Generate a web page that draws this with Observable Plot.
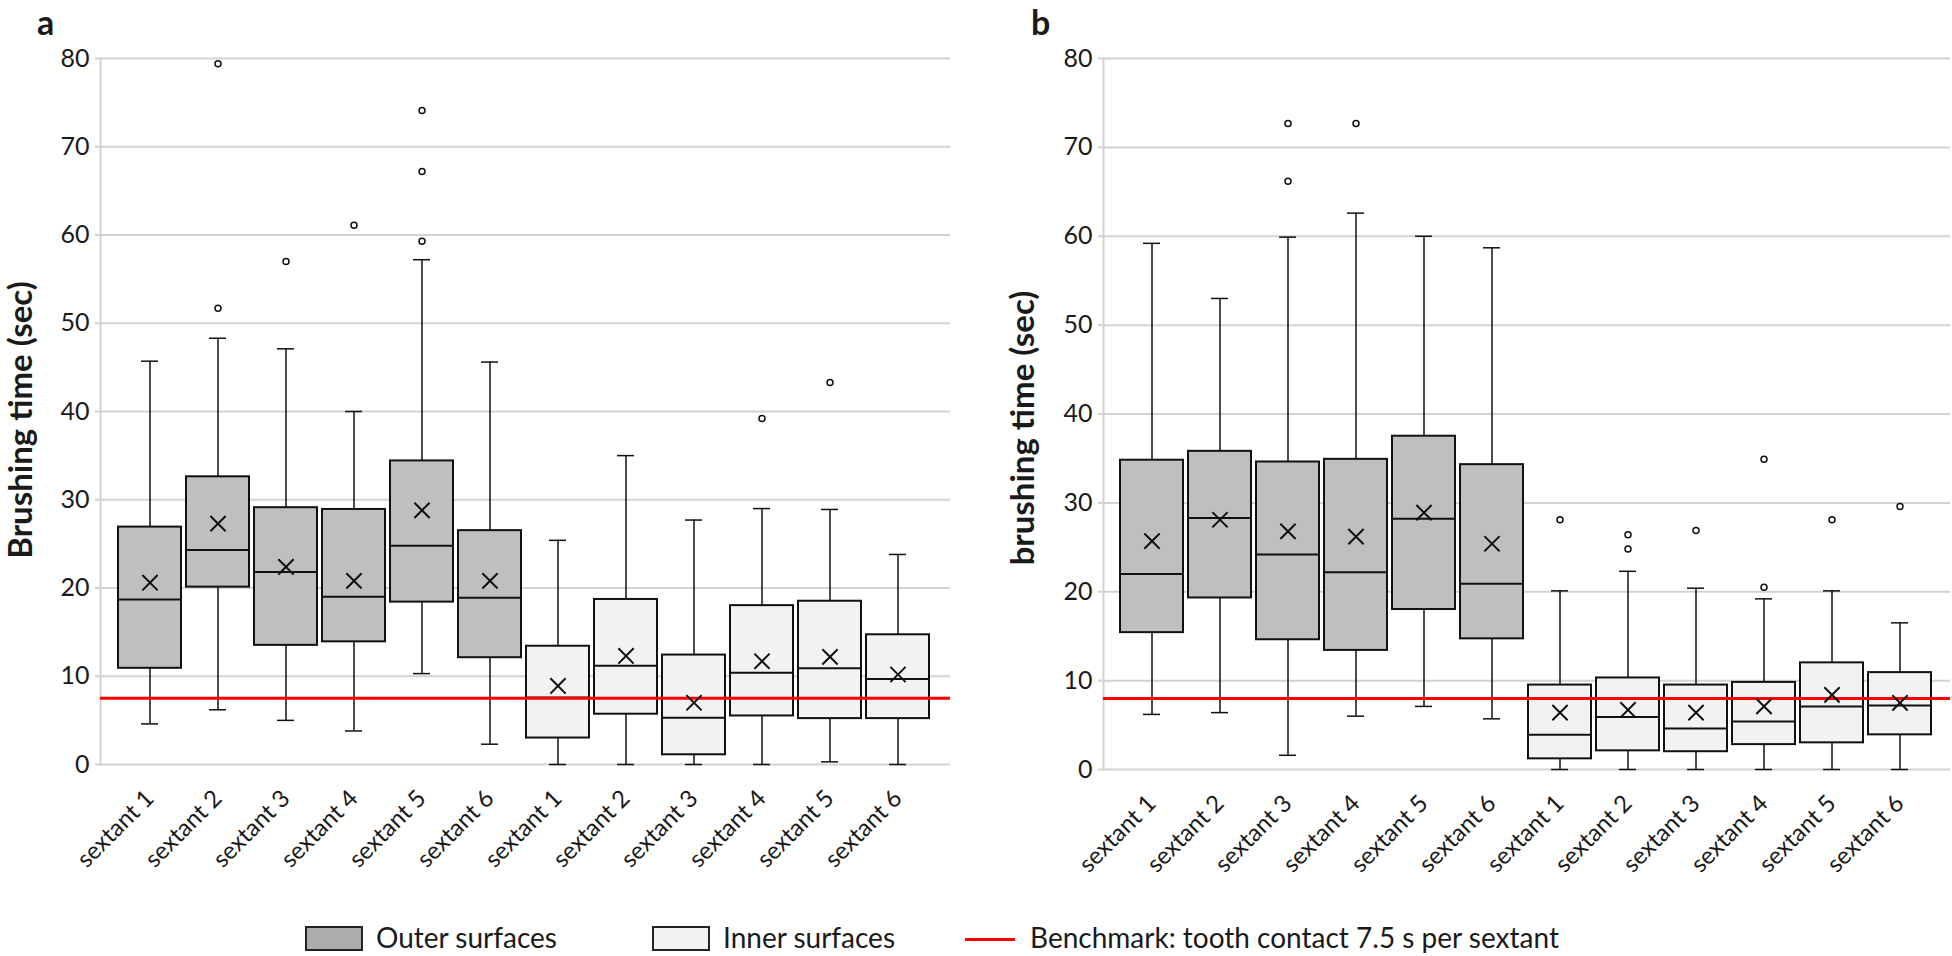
<!DOCTYPE html>
<html>
<head>
<meta charset="utf-8">
<script src="https://cdn.jsdelivr.net/npm/d3@7"></script>
<script src="https://cdn.jsdelivr.net/npm/@observablehq/plot@0.6"></script>
<style>
  html, body { margin: 0; padding: 0; background: #fff; }
  #root { position: relative; width: 1952px; height: 956px; overflow: hidden; font-family: Lato, "Open Sans", sans-serif; color: #1a1a1a; }
  .panel { position: absolute; top: 0; }
  .ytitle { position: absolute; font-weight: bold; font-size: 33px; line-height: 1; white-space: nowrap; transform: translate(-50%, -50%) rotate(-90deg); }
  .letter { position: absolute; font-weight: bold; font-size: 34px; line-height: 1.15; }
  .lg { position: absolute; font-size: 28px; line-height: 1; white-space: nowrap; }
  .sw { position: absolute; box-sizing: border-box; border: 2px solid #222; }
  .redline { position: absolute; height: 3px; background: #ff0000; }
</style>
</head>
<body>
<div id="root"></div>
<script>
// ---- data ----
const sextants = ["sextant 1", "sextant 2", "sextant 3", "sextant 4", "sextant 5", "sextant 6"];
const surfaces = ["Outer surfaces", "Inner surfaces"];
const yTicks = [0, 10, 20, 30, 40, 50, 60, 70, 80];
const benchmarkLabel = "Benchmark: tooth contact 7.5 s per sextant";

// Panel a (6 outer, then 6 inner)
const aLow    = [4.6, 6.2, 5.0, 3.8, 10.3, 2.3, 0, 0, 0, 0, 0.3, 0];
const aQ1     = [10.9, 20.1, 13.5, 13.9, 18.4, 12.1, 3.0, 5.7, 1.1, 5.5, 5.2, 5.2];
const aMedian = [18.7, 24.3, 21.8, 19.0, 24.8, 18.9, 7.6, 11.2, 5.3, 10.4, 10.9, 9.7];
const aQ3     = [26.9, 32.6, 29.1, 28.9, 34.4, 26.5, 13.4, 18.7, 12.4, 18.0, 18.5, 14.7];
const aHigh   = [45.7, 48.3, 47.1, 40.0, 57.2, 45.6, 25.4, 35.0, 27.7, 29.0, 28.9, 23.8];
const aMean   = [20.6, 27.3, 22.4, 20.8, 28.8, 20.8, 8.9, 12.3, 7.0, 11.7, 12.2, 10.2];
const aOutlierIndex = [1, 1, 2, 3, 4, 4, 4, 9, 10];
const aOutlierValue = [51.7, 79.4, 57.0, 61.1, 59.3, 67.2, 74.1, 39.2, 43.3];
const aBenchmark = 7.5;

// Panel b
const bLow    = [6.2, 6.4, 1.6, 6.0, 7.1, 5.7, 0, 0, 0, 0, 0, 0];
const bQ1     = [15.4, 19.3, 14.6, 13.4, 18.0, 14.7, 1.2, 2.1, 2.0, 2.8, 3.0, 3.9];
const bMedian = [22.0, 28.3, 24.2, 22.2, 28.2, 20.9, 3.9, 5.9, 4.6, 5.4, 7.1, 7.2];
const bQ3     = [34.8, 35.8, 34.6, 34.9, 37.5, 34.3, 9.5, 10.3, 9.5, 9.8, 12.0, 10.9];
const bHigh   = [59.2, 53.0, 59.9, 62.6, 60.0, 58.7, 20.1, 22.3, 20.4, 19.2, 20.1, 16.5];
const bMean   = [25.7, 28.1, 26.8, 26.2, 28.9, 25.4, 6.4, 6.7, 6.4, 7.1, 8.4, 7.5];
const bOutlierIndex = [2, 2, 3, 6, 7, 7, 8, 9, 9, 10, 11];
const bOutlierValue = [66.2, 72.7, 72.7, 28.1, 24.8, 26.4, 26.9, 20.5, 34.9, 28.1, 29.6];
const bBenchmark = 8.0;

// ---- build ----
const keys = surfaces.flatMap(s => sextants.map(x => s + "|" + x));

function rowsFrom(low, q1, median, q3, high, mean) {
  return keys.map((k, i) => ({
    key: k, surface: k.split("|")[0],
    low: low[i], q1: q1[i], median: median[i], q3: q3[i], high: high[i], mean: mean[i]
  }));
}
function outliersFrom(idx, val) {
  return idx.map((i, j) => ({key: keys[i], value: val[j]}));
}

function panel(opts) {
  const rows = rowsFrom(opts.low, opts.q1, opts.median, opts.q3, opts.high, opts.mean);
  const outs = outliersFrom(opts.oi, opts.ov);
  const ink = "#111";
  return Plot.plot({
    width: opts.width,
    height: 900,
    marginTop: 58,
    marginLeft: opts.marginLeft,
    marginRight: opts.marginRight,
    marginBottom: opts.marginBottom,
    style: {fontFamily: "Lato, 'Open Sans', sans-serif", color: "#1a1a1a", background: "transparent", overflow: "visible"},
    x: {domain: keys, paddingInner: 0.08, paddingOuter: 0.04, insetLeft: opts.insetLeft, insetRight: opts.insetRight},
    y: {domain: [0, 80]},
    color: {domain: surfaces, range: ["#bfbfbf", "#f2f2f2"]},
    marks: [
      Plot.gridY(yTicks, {stroke: "#d2d2d2", strokeOpacity: 1, strokeWidth: 2}),
      Plot.axisY(yTicks, {tickSize: 5, tickPadding: 6, stroke: "#d2d2d2", strokeWidth: 2, fill: "#1a1a1a", fontSize: 25, label: null}),
      Plot.frame({anchor: "left", stroke: "#d2d2d2", strokeWidth: 2}),
      Plot.axisX({tickRotate: -45, tickSize: 0, tickPadding: 30, fontSize: 24, fill: "#1a1a1a", label: null,
                  tickFormat: d => d.split("|")[1]}),
      Plot.ruleX(rows, {x: "key", y1: "low", y2: "high", stroke: ink, strokeWidth: 1.5}),
      Plot.tickY(rows, {x: "key", y: "low", stroke: ink, strokeWidth: 1.5, insetLeft: 23, insetRight: 23}),
      Plot.tickY(rows, {x: "key", y: "high", stroke: ink, strokeWidth: 1.5, insetLeft: 23, insetRight: 23}),
      Plot.barY(rows, {x: "key", y1: "q1", y2: "q3", fill: "surface", stroke: ink, strokeWidth: 2}),
      Plot.tickY(rows, {x: "key", y: "median", stroke: ink, strokeWidth: 2}),
      Plot.ruleY([opts.benchmark], {stroke: "#ff0000", strokeWidth: 3}),
      Plot.dot(rows, {x: "key", y: "mean", symbol: "times", r: 7, stroke: ink, strokeWidth: 2}),
      Plot.dot(outs, {x: "key", y: "value", r: 3, stroke: ink, fill: "white", strokeWidth: 1.5})
    ]
  });
}

const root = document.getElementById("root");

const pa = panel({low: aLow, q1: aQ1, median: aMedian, q3: aQ3, high: aHigh, mean: aMean,
  oi: aOutlierIndex, ov: aOutlierValue, benchmark: aBenchmark,
  width: 970, marginLeft: 100, marginRight: 20, marginBottom: 136, insetLeft: 14, insetRight: 17});
const wa = document.createElement("div"); wa.className = "panel"; wa.style.left = "0px"; wa.appendChild(pa); root.appendChild(wa);

const pb = panel({low: bLow, q1: bQ1, median: bMedian, q3: bQ3, high: bHigh, mean: bMean,
  oi: bOutlierIndex, ov: bOutlierValue, benchmark: bBenchmark,
  width: 972, marginLeft: 123, marginRight: 2, marginBottom: 131, insetLeft: 12, insetRight: 15});
const wb = document.createElement("div"); wb.className = "panel"; wb.style.left = "980px"; wb.appendChild(pb); root.appendChild(wb);

function addDiv(cls, text, css) {
  const d = document.createElement("div");
  d.className = cls;
  if (text) d.textContent = text;
  Object.assign(d.style, css);
  root.appendChild(d);
  return d;
}
addDiv("letter", "a", {left: "37px", top: "2px"});
addDiv("letter", "b", {left: "1031px", top: "2px"});
addDiv("ytitle", "Brushing time (sec)", {left: "19px", top: "420px"});
addDiv("ytitle", "brushing time (sec)", {left: "1021px", top: "428px"});

// legend
addDiv("sw", "", {left: "305px", top: "926px", width: "58px", height: "25px", background: "#aeabab"});
addDiv("lg", surfaces[0], {left: "376px", top: "923px"});
addDiv("sw", "", {left: "652px", top: "926px", width: "58px", height: "25px", background: "#f2f2f2"});
addDiv("lg", surfaces[1], {left: "723px", top: "923px"});
addDiv("redline", "", {left: "965px", top: "938px", width: "50px"});
addDiv("lg", benchmarkLabel, {left: "1030px", top: "923px"});
</script>
</body>
</html>
